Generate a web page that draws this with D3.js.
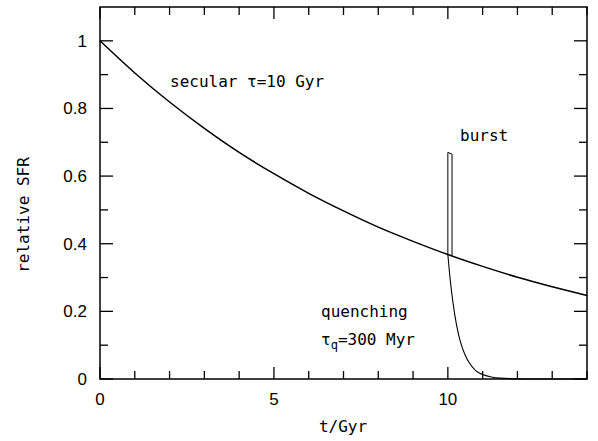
<!DOCTYPE html>
<html><head><meta charset="utf-8">
<script src="https://cdn.jsdelivr.net/npm/d3@7"></script>
<style>body{margin:0;background:#fff}svg{display:block}</style>
</head><body>
<svg id="c" width="598" height="441"></svg>
<script>
// secular SFR, tau = 10 Gyr
const secT = [0,1,2,3,4,5,6,7,8,9,10,11,12,13,14];
const secV = [1.0,0.905,0.819,0.741,0.670,0.607,0.549,0.497,0.449,0.407,0.368,0.333,0.301,0.273,0.247];
// burst outline
const burstT = [10.0,10.0,10.12,10.12];
const burstV = [0.368,0.670,0.665,0.364];
// quenching, tau_q = 300 Myr
const quenchT = [10.0,10.05,10.1,10.2,10.3,10.4,10.5,10.6,10.8,11.0,11.25,11.5,12.0,12.5,14.0];
const quenchV = [0.368,0.311,0.264,0.189,0.135,0.097,0.070,0.050,0.025,0.013,0.006,0.0025,0.0005,0.0,0.0];
const xMajor = [0,5,10];
const yMajor = [0,0.2,0.4,0.6,0.8,1];

const svg = d3.select("#c");
const L=100, R=587, T=7, B=379;
const x = d3.scaleLinear().domain([0,14]).range([L,R]);
const y = d3.scaleLinear().domain([0,1.1]).range([B,T]);
const sans = "Liberation Sans, Arial, sans-serif";
const mono = "DejaVu Sans Mono, monospace";

// frame
svg.append("rect").attr("x",L).attr("y",T).attr("width",R-L).attr("height",B-T)
  .attr("fill","none").attr("stroke","#000").attr("stroke-width",1.5);

const xMinor = d3.range(0,15,1);
const yMinor = d3.range(0,11,1).map(d=>d/10);
const tk = svg.append("g").attr("stroke","#000").attr("stroke-width",1.3);
xMinor.forEach(t=>{
  const len = xMajor.includes(t)?12:8;
  tk.append("line").attr("x1",x(t)).attr("x2",x(t)).attr("y1",B).attr("y2",B-len);
  tk.append("line").attr("x1",x(t)).attr("x2",x(t)).attr("y1",T).attr("y2",T+len);
});
yMinor.forEach(v=>{
  const maj = yMajor.some(m=>Math.abs(m-v)<1e-9);
  const len = maj?13:8;
  tk.append("line").attr("y1",y(v)).attr("y2",y(v)).attr("x1",L).attr("x2",L+len);
  tk.append("line").attr("y1",y(v)).attr("y2",y(v)).attr("x1",R).attr("x2",R-len);
});

// tick labels
svg.append("g").selectAll("text").data(xMajor).join("text")
  .attr("x",d=>x(d)).attr("y",405).attr("text-anchor","middle")
  .attr("font-family",sans).attr("font-size",17).text(d=>d);
svg.append("g").selectAll("text").data(yMajor).join("text")
  .attr("x",87).attr("y",d=>y(d)+6).attr("text-anchor","end")
  .attr("font-family",sans).attr("font-size",17).text(d=>d);

// axis titles
svg.append("text").attr("x",343).attr("y",432).attr("text-anchor","middle")
  .attr("font-family",mono).attr("font-size",16).text("t/Gyr");
svg.append("text").attr("transform","translate(29,215) rotate(-90)").attr("text-anchor","middle")
  .attr("font-family",mono).attr("font-size",16).text("relative SFR");

// curves
const line = d3.line().x(d=>x(d[0])).y(d=>y(d[1])).curve(d3.curveMonotoneX);
svg.append("path").attr("d",line(secT.map((t,i)=>[t,secV[i]])))
  .attr("fill","none").attr("stroke","#000").attr("stroke-width",1.5);
svg.append("path").attr("d",d3.line().x(d=>x(d[0])).y(d=>y(d[1]))(burstT.map((t,i)=>[t,burstV[i]])))
  .attr("fill","none").attr("stroke","#000").attr("stroke-width",1);
svg.append("path").attr("d",line(quenchT.map((t,i)=>[t,quenchV[i]])))
  .attr("fill","none").attr("stroke","#000").attr("stroke-width",1.1);

// annotations
const ann = (tx,ty,s)=>svg.append("text").attr("x",tx).attr("y",ty)
  .attr("font-family",mono).attr("font-size",16).text(s);
ann(170,87,"secular τ=10 Gyr");
ann(460,141,"burst");
ann(321,317,"quenching");
const q = svg.append("text").attr("x",321).attr("y",345).attr("font-family",mono).attr("font-size",16);
q.append("tspan").text("τ");
q.append("tspan").attr("dy",4).attr("font-size",12).text("q");
q.append("tspan").attr("dy",-4).text("=300 Myr");
</script>
</body></html>
